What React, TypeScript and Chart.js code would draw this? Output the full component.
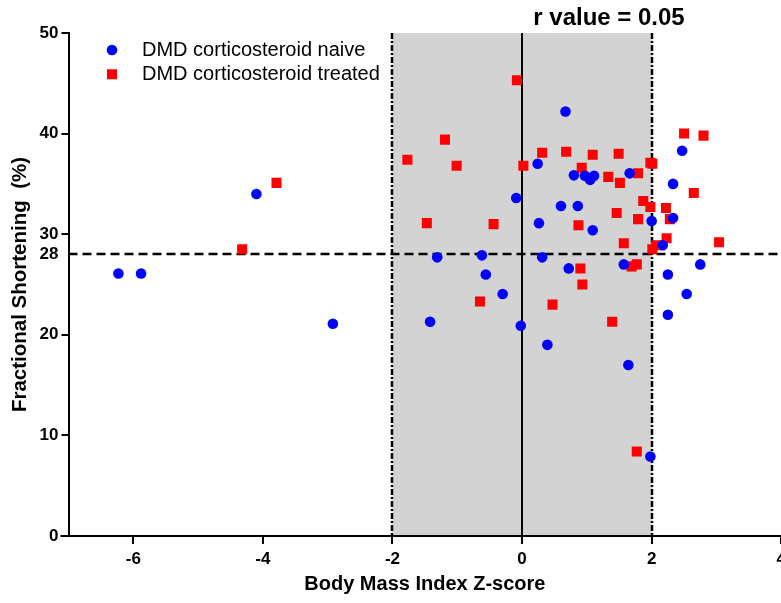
import React, { useEffect, useRef } from "react";
import { Chart, registerables } from "chart.js";

Chart.register(...registerables);

// Body Mass Index Z-score (x) vs Fractional Shortening % (y)
const naiveX = [-6.23, -5.88, -4.10, -2.92, 0.67, 2.47, 0.24, 0.80, 0.97, 1.05, 1.11, 1.66, 2.33, -0.09, 0.60, 0.86, 0.26, 1.09, 2.0, 2.33, 2.17, -1.31, -0.62, 0.31, -0.56, 0.72, 1.57, 2.75, 2.25, -0.30, 2.54, -1.42, -0.02, 0.39, 1.64, 1.98, 2.25];
const naiveY = [26.1, 26.1, 34.0, 21.1, 42.2, 38.3, 37.0, 35.85, 35.8, 35.4, 35.8, 36.05, 35.0, 33.6, 32.8, 32.8, 31.1, 30.4, 31.3, 31.6, 28.9, 27.7, 27.9, 27.7, 26.0, 26.6, 27.0, 27.0, 26.0, 24.05, 24.05, 21.3, 20.9, 19.0, 17.0, 7.9, 22.0];

const treatedX = [-4.32, -3.79, -0.08, -1.19, -1.77, -1.01, 0.02, 0.31, 0.68, 1.09, 1.49, 0.92, 1.33, 1.51, 1.79, 1.98, 2.01, 2.50, 2.80, 2.65, 1.87, 1.98, 2.22, 2.28, 1.46, 1.79, -1.47, -0.44, 0.87, 1.57, 2.23, 2.07, 2.01, 3.04, 0.90, 1.69, 1.77, 0.93, -0.65, 0.47, 1.39, 1.77];
const treatedY = [28.5, 35.1, 45.3, 39.4, 37.4, 36.8, 36.8, 38.1, 38.2, 37.9, 38.0, 36.6, 35.7, 35.1, 36.05, 37.1, 37.0, 40.0, 39.8, 34.1, 33.3, 32.7, 32.6, 31.5, 32.1, 31.5, 31.1, 31.0, 30.9, 29.1, 29.6, 28.9, 28.5, 29.2, 26.6, 26.8, 27.0, 25.0, 23.3, 23.0, 21.3, 8.4];

const seriesNames = ["DMD corticosteroid naive", "DMD corticosteroid treated"];
const xTicks = [-6, -4, -2, 0, 2, 4];
const yTicks = [0, 10, 20, 28, 30, 40, 50];
const bandRange = [-2, 2];
const thresholdY = 28;
const rText = "r value = 0.05";

const FONT = "'Liberation Sans', Arial, Helvetica, sans-serif";

export default function App() {
  const ref = useRef<HTMLCanvasElement | null>(null);

  useEffect(() => {
    const canvas = ref.current;
    if (!canvas) return;

    const overlay = {
      id: "overlay",
      beforeDraw(chart: any) {
        const { ctx, chartArea: a, scales } = chart;
        ctx.save();
        ctx.fillStyle = "#ffffff";
        ctx.fillRect(0, 0, chart.width, chart.height);
        const x1 = scales.x.getPixelForValue(bandRange[0]);
        const x2 = scales.x.getPixelForValue(bandRange[1]);
        ctx.fillStyle = "#d3d3d3";
        ctx.fillRect(x1, a.top, x2 - x1, a.bottom - a.top);
        ctx.restore();
      },
      beforeDatasetsDraw(chart: any) {
        const { ctx, chartArea: a, scales } = chart;
        ctx.save();
        ctx.strokeStyle = "#000";
        ctx.lineWidth = 2.5;
        ctx.setLineDash([6, 2, 2, 2]);
        for (const v of bandRange) {
          const px = Math.round(scales.x.getPixelForValue(v));
          ctx.beginPath();
          ctx.moveTo(px, a.top);
          ctx.lineTo(px, a.bottom);
          ctx.stroke();
        }
        ctx.setLineDash([]);
        ctx.lineWidth = 2;
        const x0 = Math.round(scales.x.getPixelForValue(0));
        ctx.beginPath();
        ctx.moveTo(x0, a.top);
        ctx.lineTo(x0, a.bottom);
        ctx.stroke();
        ctx.lineWidth = 2.5;
        ctx.setLineDash([9, 5]);
        const py = Math.round(scales.y.getPixelForValue(thresholdY));
        ctx.beginPath();
        ctx.moveTo(a.left, py);
        ctx.lineTo(a.right, py);
        ctx.stroke();
        ctx.setLineDash([]);
        ctx.lineWidth = 2;
        ctx.beginPath();
        ctx.moveTo(a.left - 8, a.bottom);
        ctx.lineTo(a.left, a.bottom);
        ctx.stroke();
        ctx.restore();
      },
      afterDraw(chart: any) {
        const { ctx } = chart;
        ctx.save();
        ctx.fillStyle = "#000";
        ctx.font = `bold 24px ${FONT}`;
        ctx.textAlign = "center";
        ctx.textBaseline = "middle";
        ctx.fillText(rText, 609, 18);
        ctx.font = `20px ${FONT}`;
        ctx.textAlign = "left";
        ctx.fillStyle = "#0000ff";
        ctx.beginPath();
        ctx.arc(112, 50, 5.3, 0, Math.PI * 2);
        ctx.fill();
        ctx.fillStyle = "#ff0000";
        ctx.fillRect(107, 69.3, 10, 10);
        ctx.fillStyle = "#000";
        ctx.fillText(seriesNames[0], 142, 50);
        ctx.fillText(seriesNames[1], 142, 74.5);
        ctx.restore();
      },
    };

    const chart = new Chart(canvas, {
      type: "scatter",
      data: {
        datasets: [
          {
            label: seriesNames[0],
            data: naiveX.map((x, i) => ({ x, y: naiveY[i] })),
            backgroundColor: "#0000ff",
            borderWidth: 0,
            pointStyle: "circle",
            pointRadius: 5.3,
            pointHoverRadius: 5.3,
          },
          {
            label: seriesNames[1],
            data: treatedX.map((x, i) => ({ x, y: treatedY[i] })),
            backgroundColor: "#ff0000",
            borderWidth: 0,
            pointStyle: "rect",
            pointRadius: 7.1,
            pointHoverRadius: 7.1,
          },
        ],
      },
      options: {
        animation: false,
        responsive: false,
        devicePixelRatio: 1,
        layout: { padding: { top: 33, right: 0, bottom: 0, left: 0 } },
        plugins: {
          legend: { display: false },
          tooltip: { enabled: false },
          title: { display: false },
        },
        events: [],
        scales: {
          x: {
            type: "linear",
            min: -7,
            max: 4,
            afterBuildTicks: (scale: any) => {
              scale.ticks = xTicks.map((v) => ({ value: v }));
            },
            afterFit: (scale: any) => {
              scale.height = 67;
            },
            border: { display: true, color: "#000", width: 2 },
            grid: {
              display: true,
              drawOnChartArea: false,
              drawTicks: true,
              tickLength: 8,
              color: "#000",
              lineWidth: 2,
            },
            ticks: {
              color: "#000",
              padding: 5,
              maxRotation: 0,
              autoSkip: false,
              font: { family: FONT, size: 17, weight: "bold" },
            },
            title: {
              display: true,
              text: "Body Mass Index Z-score",
              color: "#000",
              font: { family: FONT, size: 20, weight: "bold" },
              padding: { top: 0, bottom: 7 },
            },
          },
          y: {
            type: "linear",
            min: 0,
            max: 50,
            afterBuildTicks: (scale: any) => {
              scale.ticks = yTicks.map((v) => ({ value: v }));
            },
            afterFit: (scale: any) => {
              scale.width = 68.5;
            },
            border: { display: true, color: "#000", width: 2 },
            grid: {
              display: true,
              drawOnChartArea: false,
              drawTicks: true,
              tickLength: 7,
              color: (c: any) => (c.tick && c.tick.value === thresholdY ? "rgba(0,0,0,0)" : "#000"),
              tickColor: (c: any) => (c.tick && c.tick.value === thresholdY ? "rgba(0,0,0,0)" : "#000"),
              lineWidth: 2,
            },
            ticks: {
              color: "#000",
              padding: 3,
              autoSkip: false,
              font: { family: FONT, size: 17, weight: "bold" },
            },
            title: {
              display: true,
              text: "Fractional Shortening  (%)",
              color: "#000",
              font: { family: FONT, size: 20.5, weight: "bold" },
              padding: { top: 8, bottom: 0 },
            },
          },
        },
      },
      plugins: [overlay],
    });

    return () => chart.destroy();
  }, []);

  return (
    <div style={{ position: "fixed", left: 0, top: 0, width: 781, height: 603, background: "#fff", overflow: "hidden" }}>
      <canvas ref={ref} width={791} height={603} style={{ display: "block", width: 791, height: 603 }} />
    </div>
  );
}
